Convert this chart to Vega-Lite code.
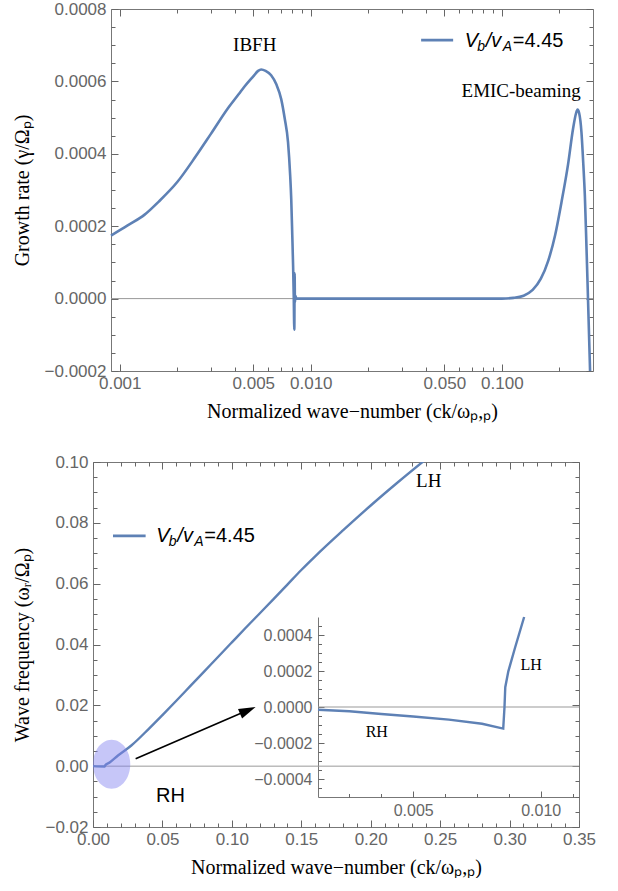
{
"$schema": "https://vega.github.io/schema/vega-lite/v6.json",
"background": "white",
"padding": {"left": 12, "top": 0, "right": 0, "bottom": 0},
"spacing": 23,
"config": {
 "view": {"stroke": "#777", "strokeWidth": 1},
 "axis": {"grid": false, "domain": false, "ticks": false, "labelFont": "Liberation Sans", "labelFontSize": 17, "labelColor": "#666", "tickColor": "#666", "tickWidth": 1, "domainColor": "#777", "domainWidth": 1, "titleFont": "Liberation Serif", "titleFontSize": 20, "titleFontWeight": "normal", "titleColor": "#000", "labelFlush": false, "labelOverlap": false}
},
"datasets": {
 "growth": [
  {"k":0.0009,"g":0.000174},{"k":0.0011,"g":0.000202},{"k":0.00135,"g":0.000232},{"k":0.0016,"g":0.000268},{"k":0.002,"g":0.000322},{"k":0.0025,"g":0.000393},{"k":0.003,"g":0.000455},{"k":0.0037,"g":0.000527},{"k":0.0042,"g":0.000565},{"k":0.0045,"g":0.000586},{"k":0.005,"g":0.000614},{"k":0.0053,"g":0.000629},{"k":0.0055,"g":0.000633},{"k":0.0058,"g":0.000629},{"k":0.0062,"g":0.000617},{"k":0.0066,"g":0.000592},{"k":0.007,"g":0.000551},{"k":0.0073,"g":0.000498},{"k":0.0076,"g":0.000432},{"k":0.0078,"g":0.00034},{"k":0.0079,"g":0.000275},{"k":0.008,"g":0.000175},{"k":0.00808,"g":0.00009},{"k":0.00814,"g":0.00001},{"k":0.0082,"g":-0.000086},{"k":0.00823,"g":0.00007},{"k":0.00826,"g":-0.00001},{"k":0.0083,"g":0.000008},{"k":0.0084,"g":0},{"k":0.02,"g":0},{"k":0.05,"g":0},{"k":0.1,"g":0},{"k":0.115,"g":0.000002},{"k":0.13,"g":0.000008},{"k":0.145,"g":0.000024},{"k":0.16,"g":0.000055},{"k":0.175,"g":0.000105},{"k":0.19,"g":0.000175},{"k":0.205,"g":0.000265},{"k":0.222,"g":0.00037},{"k":0.236,"g":0.00047},{"k":0.244,"g":0.00051},{"k":0.249,"g":0.000522},{"k":0.254,"g":0.000512},{"k":0.261,"g":0.00046},{"k":0.267,"g":0.00037},{"k":0.272,"g":0.000283},{"k":0.2765,"g":0.000165},{"k":0.2806,"g":0.000052},{"k":0.2888,"g":-0.000178},{"k":0.293,"g":-0.0003}
 ],
 "freq": [
  {"k":0,"w":0},{"k":0.0085,"w":-0.00012},{"k":0.0087,"w":0.0002},{"k":0.012,"w":0.0012},{"k":0.018,"w":0.0035},{"k":0.0276,"w":0.0068},{"k":0.04,"w":0.0122},{"k":0.05,"w":0.0168},{"k":0.06,"w":0.0215},{"k":0.07,"w":0.0263},{"k":0.08,"w":0.0311},{"k":0.09,"w":0.0359},{"k":0.1,"w":0.0407},{"k":0.11,"w":0.0455},{"k":0.12,"w":0.0502},{"k":0.13,"w":0.0549},{"k":0.14,"w":0.0597},{"k":0.15,"w":0.0645},{"k":0.16,"w":0.069},{"k":0.18,"w":0.0775},{"k":0.2,"w":0.0857},{"k":0.22,"w":0.0935},{"k":0.24,"w":0.101},{"k":0.25,"w":0.1047}
 ],
 "inset": [
  {"k":0.00127,"w":-0.000015},{"k":0.0025,"w":-0.000024},{"k":0.00375,"w":-0.000039},{"k":0.005,"w":-0.000053},{"k":0.0064,"w":-0.00007},{"k":0.0077,"w":-0.000093},{"k":0.00853,"w":-0.00012},{"k":0.00858,"w":0},{"k":0.00861,"w":0.00011},{"k":0.00873,"w":0.000198},{"k":0.00899,"w":0.000328},{"k":0.00935,"w":0.0005}
 ]
},
"vconcat": [
 {
  "width": 500, "height": 362,
  "view": {"stroke": null},
  "resolve": {"axis": {"x": "independent", "y": "independent"}},
  "layer": [
   {"data": {"values": [{"k1": 0.0009, "k2": 0.3, "z": 0}]}, "mark": {"type": "rule", "color": "#999", "strokeWidth": 1},
    "encoding": {"x": {"field": "k1", "type": "quantitative", "axis": null, "scale": {"type": "log", "domain": [0.0009, 0.3], "nice": false, "range": [18, 500]}}, "x2": {"field": "k2"},
     "y": {"field": "z", "type": "quantitative", "axis": null, "scale": {"domain": [-0.0002, 0.0008], "nice": false, "zero": false}}}},
   {"data": {"name": "growth"}, "mark": {"type": "line", "color": "#5E81B5", "strokeWidth": 2.6, "clip": true, "interpolate": "monotone"},
    "encoding": {
     "x": {"field": "k", "type": "quantitative", "scale": {"type": "log", "domain": [0.0009, 0.3], "nice": false, "range": [18, 500]},
      "axis": {"orient": "bottom", "domain": true, "values": [0.001, 0.005, 0.01, 0.05, 0.1], "format": ".3f", "labelPadding": 4, "title": "Normalized wave−number  (ck/ωₚ,ₚ)", "titlePadding": 10}},
     "y": {"field": "g", "type": "quantitative", "scale": {"domain": [-0.0002, 0.0008], "nice": false, "zero": false},
      "axis": {"orient": "left", "offset": -18, "domain": true, "values": [-0.0002, 0, 0.0002, 0.0004, 0.0006, 0.0008], "format": ".4f", "labelPadding": 5, "title": "Growth rate (γ/Ωₚ)", "titlePadding": 12}}
    }},
   {"data": {"name": "growth"}, "mark": {"type": "point", "opacity": 0},
    "encoding": {
     "x": {"field": "k", "type": "quantitative", "axis": {"orient": "bottom", "offset": -7, "ticks": true, "values": [0.001, 0.005, 0.01, 0.05, 0.1], "labels": false, "tickSize": 7, "title": null}},
     "y": {"field": "g", "type": "quantitative", "axis": {"orient": "left", "offset": -25, "ticks": true, "values": [-0.0002, 0, 0.0002, 0.0004, 0.0006, 0.0008], "labels": false, "tickSize": 7, "title": null}}
    }},
   {"data": {"name": "growth"}, "mark": {"type": "point", "opacity": 0},
    "encoding": {
     "x": {"field": "k", "type": "quantitative", "axis": {"orient": "bottom", "offset": -4, "ticks": true, "values": [0.002,0.003,0.004,0.006,0.007,0.008,0.009,0.02,0.03,0.04,0.06,0.07,0.08,0.09,0.2], "labels": false, "tickSize": 4, "title": null}},
     "y": {"field": "g", "type": "quantitative", "axis": {"orient": "left", "offset": -22, "ticks": true, "values": [-0.00015,-0.0001,-0.00005,0.00005,0.0001,0.00015,0.00025,0.0003,0.00035,0.00045,0.0005,0.00055,0.00065,0.0007,0.00075], "labels": false, "tickSize": 4, "title": null}}
    }},
   {"data": {"name": "growth"}, "mark": {"type": "point", "opacity": 0},
    "encoding": {
     "x": {"field": "k", "type": "quantitative", "axis": {"orient": "top", "offset": -7, "ticks": true, "values": [0.001, 0.005, 0.01, 0.05, 0.1], "labels": false, "tickSize": 7, "title": null}},
     "y": {"field": "g", "type": "quantitative", "axis": {"orient": "right", "offset": -7, "ticks": true, "values": [-0.0002, 0, 0.0002, 0.0004, 0.0006, 0.0008], "labels": false, "tickSize": 7, "title": null}}
    }},
   {"data": {"name": "growth"}, "mark": {"type": "point", "opacity": 0},
    "encoding": {
     "x": {"field": "k", "type": "quantitative", "axis": {"orient": "top", "offset": -4, "ticks": true, "values": [0.002,0.003,0.004,0.006,0.007,0.008,0.009,0.02,0.03,0.04,0.06,0.07,0.08,0.09,0.2], "labels": false, "tickSize": 4, "title": null}},
     "y": {"field": "g", "type": "quantitative", "axis": {"orient": "right", "offset": -4, "ticks": true, "values": [-0.00015,-0.0001,-0.00005,0.00005,0.0001,0.00015,0.00025,0.0003,0.00035,0.00045,0.0005,0.00055,0.00065,0.0007,0.00075], "labels": false, "tickSize": 4, "title": null}}
    }},
   {"data": {"name": "growth"}, "mark": {"type": "point", "opacity": 0},
    "encoding": {
     "x": {"field": "k", "type": "quantitative", "axis": {"orient": "top", "domain": true, "labels": false, "title": null}},
     "y": {"field": "g", "type": "quantitative", "axis": {"orient": "right", "domain": true, "labels": false, "title": null}}
    }},
   {"data": {"values": [{"k": 0.005088, "g": 0.000684, "label": "IBFH"}, {"k": 0.1262, "g": 0.000557, "label": "EMIC-beaming"}]},
    "mark": {"type": "text", "font": "Liberation Serif", "fontSize": 19, "color": "#000", "align": "center", "baseline": "alphabetic"},
    "encoding": {"x": {"field": "k", "type": "quantitative", "axis": null}, "y": {"field": "g", "type": "quantitative", "axis": null}, "text": {"field": "label"}}},
   {"data": {"values": [{"k1": 0.0378, "k2": 0.0556, "g": 0.000714}]}, "mark": {"type": "rule", "color": "#5E81B5", "strokeWidth": 2.6},
    "encoding": {"x": {"field": "k1", "type": "quantitative", "axis": null}, "x2": {"field": "k2"}, "y": {"field": "g", "type": "quantitative", "axis": null}}},
   {"data": {"values": [{"k": 0.064, "g": 0.000714}]}, "mark": {"type": "text", "text": "V", "font": "Liberation Sans", "fontStyle": "italic", "fontSize": 20, "align": "left", "baseline": "alphabetic", "dx": 0, "dy": 6.5, "color": "#000"},
    "encoding": {"x": {"field": "k", "type": "quantitative", "axis": null}, "y": {"field": "g", "type": "quantitative", "axis": null}}},
   {"data": {"values": [{"k": 0.064, "g": 0.000714}]}, "mark": {"type": "text", "text": "b", "font": "Liberation Sans", "fontStyle": "italic", "fontSize": 14, "align": "left", "baseline": "alphabetic", "dx": 12.5, "dy": 10.5, "color": "#000"},
    "encoding": {"x": {"field": "k", "type": "quantitative", "axis": null}, "y": {"field": "g", "type": "quantitative", "axis": null}}},
   {"data": {"values": [{"k": 0.064, "g": 0.000714}]}, "mark": {"type": "text", "text": "/v", "font": "Liberation Sans", "fontStyle": "italic", "fontSize": 20, "align": "left", "baseline": "alphabetic", "dx": 21, "dy": 6.5, "color": "#000"},
    "encoding": {"x": {"field": "k", "type": "quantitative", "axis": null}, "y": {"field": "g", "type": "quantitative", "axis": null}}},
   {"data": {"values": [{"k": 0.064, "g": 0.000714}]}, "mark": {"type": "text", "text": "A", "font": "Liberation Sans", "fontStyle": "italic", "fontSize": 14, "align": "left", "baseline": "alphabetic", "dx": 38, "dy": 10.5, "color": "#000"},
    "encoding": {"x": {"field": "k", "type": "quantitative", "axis": null}, "y": {"field": "g", "type": "quantitative", "axis": null}}},
   {"data": {"values": [{"k": 0.064, "g": 0.000714}]}, "mark": {"type": "text", "text": "=4.45", "font": "Liberation Sans", "fontSize": 20, "align": "left", "baseline": "alphabetic", "dx": 48, "dy": 6.5, "color": "#000"},
    "encoding": {"x": {"field": "k", "type": "quantitative", "axis": null}, "y": {"field": "g", "type": "quantitative", "axis": null}}}
  ]
 },
 {
  "width": 486, "height": 365,
  "resolve": {"scale": {"x": "independent", "y": "independent"}, "axis": {"x": "independent", "y": "independent"}},
  "layer": [
   {
    "resolve": {"axis": {"x": "independent", "y": "independent"}},
    "layer": [
     {"data": {"values": [{"z": 0}]}, "mark": {"type": "rule", "color": "#999", "strokeWidth": 1},
      "encoding": {"y": {"field": "z", "type": "quantitative", "axis": null, "scale": {"domain": [-0.02, 0.1], "nice": false, "zero": false}}}},
     {"data": {"name": "freq"}, "mark": {"type": "line", "color": "#5E81B5", "strokeWidth": 2.4, "clip": true, "interpolate": "monotone"},
      "encoding": {
       "x": {"field": "k", "type": "quantitative", "scale": {"domain": [0, 0.35], "nice": false, "zero": false},
        "axis": {"orient": "bottom", "values": [0, 0.05, 0.1, 0.15, 0.2, 0.25, 0.3, 0.35], "format": ".2f", "labelPadding": 4, "title": "Normalized wave−number  (ck/ωₚ,ₚ)", "titlePadding": 10}},
       "y": {"field": "w", "type": "quantitative", "scale": {"domain": [-0.02, 0.1], "nice": false, "zero": false},
        "axis": {"orient": "left", "values": [-0.02, 0, 0.02, 0.04, 0.06, 0.08, 0.1], "format": ".2f", "labelPadding": 5, "title": "Wave frequency (ωᵣ/Ωₚ)", "titlePadding": 12}}
      }},
     {"data": {"name": "freq"}, "mark": {"type": "point", "opacity": 0},
      "encoding": {
       "x": {"field": "k", "type": "quantitative", "axis": {"orient": "bottom", "offset": -7, "ticks": true, "values": [0, 0.05, 0.1, 0.15, 0.2, 0.25, 0.3, 0.35], "labels": false, "tickSize": 7, "title": null}},
       "y": {"field": "w", "type": "quantitative", "axis": {"orient": "left", "offset": -7, "ticks": true, "values": [-0.02, 0, 0.02, 0.04, 0.06, 0.08, 0.1], "labels": false, "tickSize": 7, "title": null}}
      }},
     {"data": {"name": "freq"}, "mark": {"type": "point", "opacity": 0},
      "encoding": {
       "x": {"field": "k", "type": "quantitative", "axis": {"orient": "bottom", "offset": -4, "ticks": true, "values": [0.01,0.02,0.03,0.04,0.06,0.07,0.08,0.09,0.11,0.12,0.13,0.14,0.16,0.17,0.18,0.19,0.21,0.22,0.23,0.24,0.26,0.27,0.28,0.29,0.31,0.32,0.33,0.34], "labels": false, "tickSize": 4, "title": null}},
       "y": {"field": "w", "type": "quantitative", "axis": {"orient": "left", "offset": -4, "ticks": true, "values": [-0.015,-0.01,-0.005,0.005,0.01,0.015,0.025,0.03,0.035,0.045,0.05,0.055,0.065,0.07,0.075,0.085,0.09,0.095], "labels": false, "tickSize": 4, "title": null}}
      }},
     {"data": {"name": "freq"}, "mark": {"type": "point", "opacity": 0},
      "encoding": {
       "x": {"field": "k", "type": "quantitative", "axis": {"orient": "top", "offset": -7, "ticks": true, "values": [0, 0.05, 0.1, 0.15, 0.2, 0.25, 0.3, 0.35], "labels": false, "tickSize": 7, "title": null}},
       "y": {"field": "w", "type": "quantitative", "axis": {"orient": "right", "offset": -7, "ticks": true, "values": [-0.02, 0, 0.02, 0.04, 0.06, 0.08, 0.1], "labels": false, "tickSize": 7, "title": null}}
      }},
     {"data": {"name": "freq"}, "mark": {"type": "point", "opacity": 0},
      "encoding": {
       "x": {"field": "k", "type": "quantitative", "axis": {"orient": "top", "offset": -4, "ticks": true, "values": [0.01,0.02,0.03,0.04,0.06,0.07,0.08,0.09,0.11,0.12,0.13,0.14,0.16,0.17,0.18,0.19,0.21,0.22,0.23,0.24,0.26,0.27,0.28,0.29,0.31,0.32,0.33,0.34], "labels": false, "tickSize": 4, "title": null}},
       "y": {"field": "w", "type": "quantitative", "axis": {"orient": "right", "offset": -4, "ticks": true, "values": [-0.015,-0.01,-0.005,0.005,0.01,0.015,0.025,0.03,0.035,0.045,0.05,0.055,0.065,0.07,0.075,0.085,0.09,0.095], "labels": false, "tickSize": 4, "title": null}}
      }},
     {"data": {"values": [{"k": 0.0134, "w": 0.00066}]},
      "mark": {"type": "point", "filled": true, "color": "#8080F0", "opacity": 0.45, "size": 2401, "strokeWidth": 0,
       "shape": "M0,-1C0.42,-1,0.76,-0.5523,0.76,0C0.76,0.5523,0.42,1,0,1C-0.42,1,-0.76,0.5523,-0.76,0C-0.76,-0.5523,-0.42,-1,0,-1Z"},
      "encoding": {"x": {"field": "k", "type": "quantitative", "axis": null}, "y": {"field": "w", "type": "quantitative", "axis": null}}},
     {"data": {"values": [{"k1": 0.0307, "w1": 0.00247, "k2": 0.1115, "w2": 0.01835}]}, "mark": {"type": "rule", "color": "#000", "strokeWidth": 1.6},
      "encoding": {"x": {"field": "k1", "type": "quantitative", "axis": null}, "y": {"field": "w1", "type": "quantitative", "axis": null}, "x2": {"field": "k2"}, "y2": {"field": "w2"}}},
     {"data": {"values": [{"k": 0.1115, "w": 0.01835}]},
      "mark": {"type": "point", "filled": true, "color": "#000", "opacity": 1, "size": 289, "angle": -23.5, "strokeWidth": 0, "shape": "M1,0L-1,-0.6L-1,0.6Z"},
      "encoding": {"x": {"field": "k", "type": "quantitative", "axis": null}, "y": {"field": "w", "type": "quantitative", "axis": null}}},
     {"data": {"values": [{"k": 0.2418, "w": 0.0919, "label": "LH"}]},
      "mark": {"type": "text", "font": "Liberation Serif", "fontSize": 19, "color": "#000", "align": "center", "baseline": "alphabetic"},
      "encoding": {"x": {"field": "k", "type": "quantitative", "axis": null}, "y": {"field": "w", "type": "quantitative", "axis": null}, "text": {"field": "label"}}},
     {"data": {"values": [{"k": 0.0558, "w": -0.01167, "label": "RH"}]},
      "mark": {"type": "text", "font": "Liberation Sans", "fontSize": 20, "color": "#000", "align": "center", "baseline": "alphabetic"},
      "encoding": {"x": {"field": "k", "type": "quantitative", "axis": null}, "y": {"field": "w", "type": "quantitative", "axis": null}, "text": {"field": "label"}}},
     {"data": {"values": [{"k1": 0.0144, "k2": 0.0379, "w": 0.0757}]}, "mark": {"type": "rule", "color": "#5E81B5", "strokeWidth": 2.6},
      "encoding": {"x": {"field": "k1", "type": "quantitative", "axis": null}, "x2": {"field": "k2"}, "y": {"field": "w", "type": "quantitative", "axis": null}}},
     {"data": {"values": [{"k": 0.0456, "w": 0.0757}]}, "mark": {"type": "text", "text": "V", "font": "Liberation Sans", "fontStyle": "italic", "fontSize": 20, "align": "left", "baseline": "alphabetic", "dx": 0, "dy": 6.5, "color": "#000"},
      "encoding": {"x": {"field": "k", "type": "quantitative", "axis": null}, "y": {"field": "w", "type": "quantitative", "axis": null}}},
     {"data": {"values": [{"k": 0.0456, "w": 0.0757}]}, "mark": {"type": "text", "text": "b", "font": "Liberation Sans", "fontStyle": "italic", "fontSize": 14, "align": "left", "baseline": "alphabetic", "dx": 12.5, "dy": 10.5, "color": "#000"},
      "encoding": {"x": {"field": "k", "type": "quantitative", "axis": null}, "y": {"field": "w", "type": "quantitative", "axis": null}}},
     {"data": {"values": [{"k": 0.0456, "w": 0.0757}]}, "mark": {"type": "text", "text": "/v", "font": "Liberation Sans", "fontStyle": "italic", "fontSize": 20, "align": "left", "baseline": "alphabetic", "dx": 21, "dy": 6.5, "color": "#000"},
      "encoding": {"x": {"field": "k", "type": "quantitative", "axis": null}, "y": {"field": "w", "type": "quantitative", "axis": null}}},
     {"data": {"values": [{"k": 0.0456, "w": 0.0757}]}, "mark": {"type": "text", "text": "A", "font": "Liberation Sans", "fontStyle": "italic", "fontSize": 14, "align": "left", "baseline": "alphabetic", "dx": 38, "dy": 10.5, "color": "#000"},
      "encoding": {"x": {"field": "k", "type": "quantitative", "axis": null}, "y": {"field": "w", "type": "quantitative", "axis": null}}},
     {"data": {"values": [{"k": 0.0456, "w": 0.0757}]}, "mark": {"type": "text", "text": "=4.45", "font": "Liberation Sans", "fontSize": 20, "align": "left", "baseline": "alphabetic", "dx": 48, "dy": 6.5, "color": "#000"},
      "encoding": {"x": {"field": "k", "type": "quantitative", "axis": null}, "y": {"field": "w", "type": "quantitative", "axis": null}}}
    ]
   },
   {
    "resolve": {"axis": {"x": "independent", "y": "independent"}},
    "layer": [
     {"data": {"values": [{"k1": 0.00127, "k2": 0.0115, "w": 0}]}, "mark": {"type": "rule", "color": "#999", "strokeWidth": 1},
      "encoding": {"x": {"field": "k1", "type": "quantitative", "axis": null, "scale": {"domain": [0.00127, 0.0115], "nice": false, "zero": false, "range": [225, 486]}}, "x2": {"field": "k2"},
       "y": {"field": "w", "type": "quantitative", "axis": null, "scale": {"domain": [-0.0005, 0.0005], "nice": false, "zero": false, "range": [335, 155]}}}},
     {"data": {"name": "inset"}, "mark": {"type": "line", "color": "#5E81B5", "strokeWidth": 2.4},
      "encoding": {
       "x": {"field": "k", "type": "quantitative", "scale": {"domain": [0.00127, 0.0115], "nice": false, "zero": false, "range": [225, 486]},
        "axis": {"orient": "bottom", "offset": -30, "domain": true, "values": [0.005, 0.01], "format": ".3f", "labelPadding": 5, "labelFontSize": 16, "title": null}},
       "y": {"field": "w", "type": "quantitative", "scale": {"domain": [-0.0005, 0.0005], "nice": false, "zero": false, "range": [335, 155]},
        "axis": {"orient": "left", "offset": -225, "domain": true, "values": [-0.0004, -0.0002, 0, 0.0002, 0.0004], "format": ".4f", "labelPadding": 6, "labelFontSize": 16, "title": null}}
      }},
     {"data": {"name": "inset"}, "mark": {"type": "point", "opacity": 0},
      "encoding": {
       "x": {"field": "k", "type": "quantitative", "axis": {"orient": "bottom", "offset": -36, "ticks": true, "values": [0.005, 0.01], "labels": false, "tickSize": 6, "title": null}},
       "y": {"field": "w", "type": "quantitative", "axis": {"orient": "left", "offset": -231, "ticks": true, "values": [-0.0004, -0.0002, 0, 0.0002, 0.0004], "labels": false, "tickSize": 6, "title": null}}
      }},
     {"data": {"name": "inset"}, "mark": {"type": "point", "opacity": 0},
      "encoding": {
       "x": {"field": "k", "type": "quantitative", "axis": {"orient": "bottom", "offset": -33.5, "ticks": true, "values": [0.0025, 0.00375, 0.00625, 0.0075, 0.00875, 0.01125], "labels": false, "tickSize": 3.5, "title": null}},
       "y": {"field": "w", "type": "quantitative", "axis": {"orient": "left", "offset": -228.5, "ticks": true, "values": [-0.00045,-0.00035,-0.0003,-0.00025,-0.00015,-0.0001,-0.00005,0.00005,0.0001,0.00015,0.00025,0.0003,0.00035,0.00045], "labels": false, "tickSize": 3.5, "title": null}}
      }},
     {"data": {"values": [{"k": 0.003574, "w": -0.0001667, "label": "RH"}, {"k": 0.009627, "w": 0.000206, "label": "LH"}]},
      "mark": {"type": "text", "font": "Liberation Serif", "fontSize": 16, "color": "#000", "align": "center", "baseline": "alphabetic"},
      "encoding": {"x": {"field": "k", "type": "quantitative", "axis": null}, "y": {"field": "w", "type": "quantitative", "axis": null}, "text": {"field": "label"}}}
    ]
   }
  ]
 }
]
}
